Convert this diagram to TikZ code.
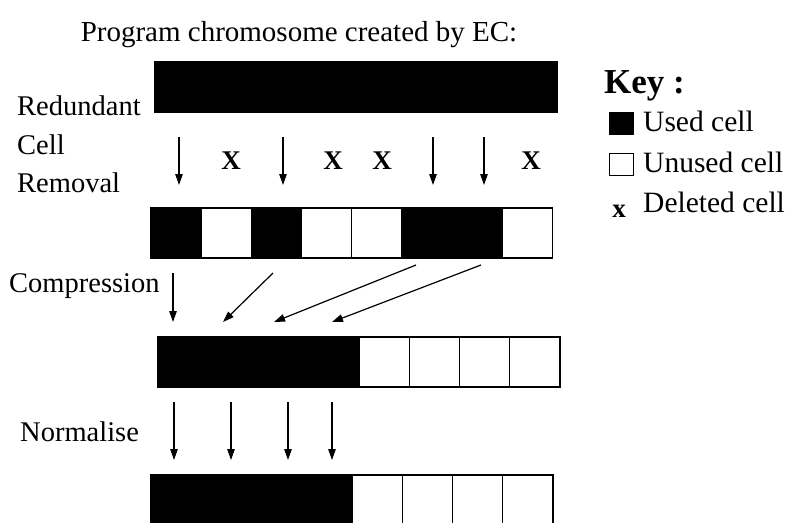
\documentclass[tikz,border=0pt]{standalone}
\usepackage{fontspec}
\setmainfont{Liberation Serif}
\usetikzlibrary{arrows.meta}

\begin{document}
\begin{tikzpicture}[x=1pt,y=-1pt,
  txt/.style={anchor=base west, inner sep=0pt, font=\fontsize{28.5}{28.5}\selectfont},
  keytxt/.style={anchor=base west, inner sep=0pt, font=\fontsize{29.5}{29.5}\selectfont},
  title/.style={anchor=base, inner sep=0pt, font=\fontsize{29}{29}\selectfont},
  keyhead/.style={anchor=base west, inner sep=0pt, font=\fontsize{35}{35}\selectfont\bfseries},
  delmark/.style={inner sep=0pt, font=\fontsize{27}{27}\selectfont\bfseries},
  cell/.style={draw=black, line width=1.3pt, minimum width=50.2pt, minimum height=50pt,
               inner sep=0pt, outer sep=0pt, anchor=north west},
  used/.style={cell, fill=black},
  unused/.style={cell, fill=white},
  keybox/.style={draw=black, line width=1.1pt, minimum width=24pt, minimum height=22pt,
                 inner sep=0pt, anchor=north west},
  flow/.style={line width=1.2pt, -{Triangle[length=11pt,width=7.5pt]}}]

\useasboundingbox (0,0) rectangle (787,522);
\clip (0,0) rectangle (787,522);
\fill[white] (0,0) rectangle (787,522);

% heading
\node[title] (head) at (299,41) {Program chromosome created by EC:};

% chromosome as produced: every cell in use
\foreach \i in {1,...,8}
  \node[used] (a\i) at ({155+50.25*(\i-1)},62) {};

% after redundant cell removal
\foreach \i/\s in {1/used,2/unused,3/used,4/unused,5/unused,6/used,7/used,8/unused}
  \node[\s] (b\i) at ({151+50.15*(\i-1)},208) {};

% after compression
\foreach \i/\s in {1/used,2/used,3/used,4/used,5/unused,6/unused,7/unused,8/unused}
  \node[\s] (c\i) at ({158+50.25*(\i-1)},337) {};

% after normalisation
\foreach \i/\s in {1/used,2/used,3/used,4/used,5/unused,6/unused,7/unused,8/unused}
  \node[\s] (d\i) at ({151+50.25*(\i-1)},475) {};

% stage labels
\node[txt] (lred) at (17,115) {Redundant};
\node[txt] (lcell) at (17,154) {Cell};
\node[txt] (lrem) at (17,192) {Removal};
\node[txt] (lcomp) at (9,292) {Compression};
\node[txt] (lnorm) at (20,441) {Normalise};

% redundant cell removal: kept cells and deleted cells
\foreach \x [count=\k] in {179,283,433,484} {
  \coordinate (ks\k) at (\x,137);
  \coordinate (ke\k) at (\x,185);
  \draw[flow] (ks\k) -- (ke\k);
}
\foreach \x [count=\k] in {231,333,382,531}
  \node[delmark] (del\k) at (\x,161) {X};

% compression moves
\coordinate (cs0) at (173,273); \coordinate (ce0) at (173,322);
\coordinate (cs1) at (273,273); \coordinate (ce1) at (223,322);
\coordinate (cs2) at (416,265); \coordinate (ce2) at (274,322);
\coordinate (cs3) at (481,265); \coordinate (ce3) at (332,322);
\foreach \k in {0,...,3}
  \draw[flow] (cs\k) -- (ce\k);

% normalisation
\foreach \x [count=\k] in {174,231,288,332} {
  \coordinate (ns\k) at (\x,402);
  \coordinate (ne\k) at (\x,460);
  \draw[flow] (ns\k) -- (ne\k);
}

% key
\node[keyhead] (key) at (604,93) {Key :};
\node[keybox, fill=black] (kused) at (609,112) {};
\node[keytxt] (tused) at (643,131) {Used cell};
\node[keybox, fill=white] (kunused) at (609,153) {};
\node[keytxt] (tunused) at (643,172) {Unused cell};
\node[delmark, anchor=base] (kdel) at (619,217) {x};
\node[keytxt] (tdel) at (643,212) {Deleted cell};

\end{tikzpicture}
\end{document}
